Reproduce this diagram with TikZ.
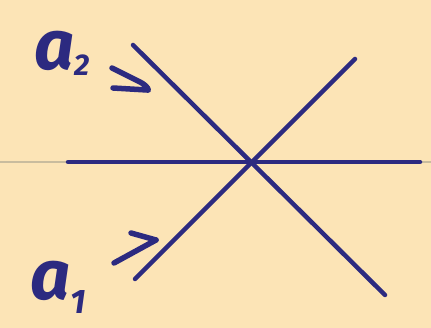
\documentclass[tikz,border=0pt]{standalone}
\usepackage{fontspec}
\newfontfamily\hand{Fira Sans}
\definecolor{bg}{HTML}{FCE4B6}
\definecolor{ink}{HTML}{2C2A80}
\definecolor{faint}{HTML}{C9BC9E}
\begin{document}
\begin{tikzpicture}[x=1pt,y=-1pt,
  inkline/.style={draw=ink, line width=4.5pt, line cap=round, line join=round},
  handstroke/.style={draw=ink, line width=5.5pt, line cap=round, line join=round},
  lbl/.style={text=ink, inner sep=0pt, font=\hand\bfseries\itshape\fontsize{70}{70}\selectfont}]
\fill[bg] (0,0) rectangle (431,328);
\useasboundingbox (0,0) rectangle (431,328);
% faint page line
\coordinate (fl) at (0,162);
\coordinate (fr) at (431,162);
\draw[faint, line width=2pt] (fl) -- (fr);
% main lines
\coordinate (h1) at (68,162);
\coordinate (h2) at (420,162);
\coordinate (d1s) at (133,45);
\coordinate (d1e) at (385,295);
\coordinate (d2s) at (355,59);
\coordinate (d2e) at (135,279);
\draw[inkline] (h1) -- (h2);
\draw[inkline] (d1s) -- (d1e);
\draw[inkline] (d2s) -- (d2e);
% labels
\node[lbl, anchor=base west] (a2) at (34,70) {a\raisebox{-0.08em}{\fontsize{30}{30}\selectfont 2}};
\node[lbl, anchor=base west] (a1) at (30,300) {a\raisebox{-0.2em}{\fontsize{34}{34}\selectfont 1}};
% hand-drawn arrows
\coordinate (p1) at (112,68);
\coordinate (p2) at (140,82);
\coordinate (p3) at (147,90);
\coordinate (p4) at (113,88);
\draw[handstroke] (p1) -- (p2) .. controls (148,86) and (150,92) .. (p3) -- (p4);
\coordinate (q1) at (114,263);
\coordinate (q2) at (156,240);
\coordinate (q3) at (131,233);
\draw[handstroke] (q1) -- (q2);
\draw[handstroke] (q3) -- (q2);
\end{tikzpicture}
\end{document}
